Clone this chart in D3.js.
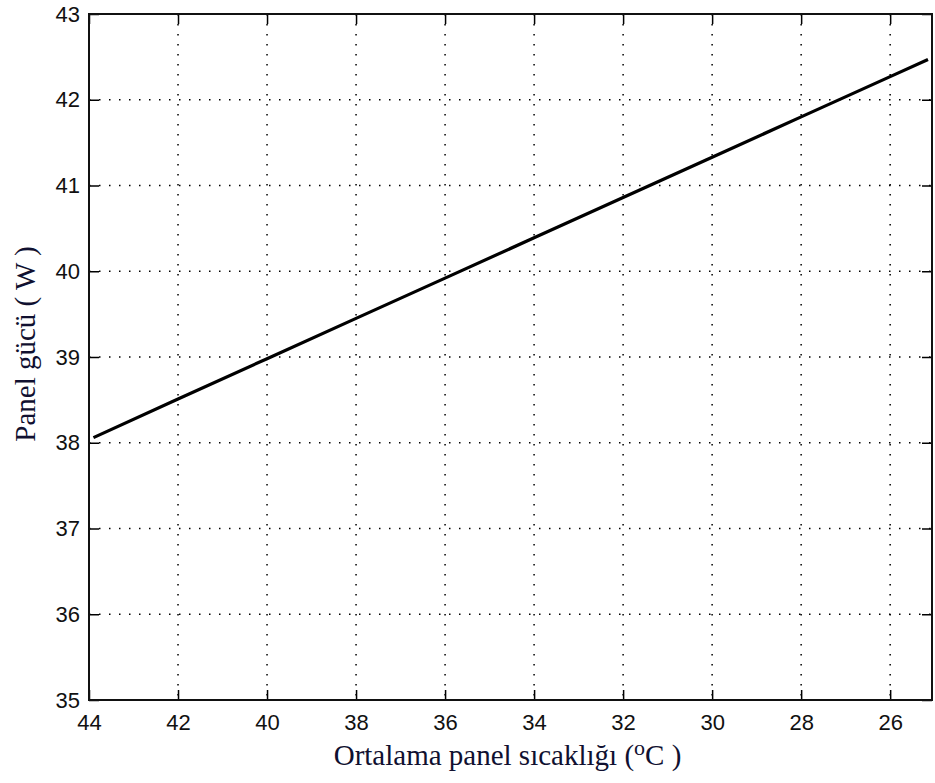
<!DOCTYPE html>
<html>
<head>
<meta charset="utf-8">
<script src="https://cdn.jsdelivr.net/npm/d3@7"></script>
<style>
  body { margin: 0; background: #fff; }
  .tick text { font-family: "Liberation Sans", Arial, sans-serif; font-size: 22px; fill: #111; }
</style>
</head>
<body>
<div id="chart"></div>
<script>
// values
var temps = [43.9, 42, 40, 38, 36, 34, 32, 30, 28, 26, 25.15];
var power = [38.06, 38.51, 38.98, 39.45, 39.92, 40.39, 40.86, 41.33, 41.80, 42.27, 42.47];
var xTicks = [44, 42, 40, 38, 36, 34, 32, 30, 28, 26];
var yTicks = [35, 36, 37, 38, 39, 40, 41, 42, 43];

var margin = {top: 14, right: 3, bottom: 83, left: 89},
    width = 935 - margin.left - margin.right,
    height = 783 - margin.top - margin.bottom;

var svg = d3.select("#chart")
  .append("svg")
    .attr("width", 935)
    .attr("height", 783)
  .append("g")
    .attr("transform", "translate(" + margin.left + "," + margin.top + ")");

// x axis runs backwards, hot on the left
var x = d3.scaleLinear()
  .domain([44, 25.06])
  .range([0, width]);

var y = d3.scaleLinear()
  .domain([35, 43])
  .range([height, 0]);

// dotted grid
svg.append("g").selectAll("line")
  .data(xTicks.slice(1))
  .enter().append("line")
    .attr("x1", function(d) { return x(d); })
    .attr("x2", function(d) { return x(d); })
    .attr("y1", 0)
    .attr("y2", height)
    .attr("stroke", "#000")
    .attr("stroke-width", 1.5)
    .attr("stroke-dasharray", "1.5,8.5");

svg.append("g").selectAll("line")
  .data(yTicks.slice(1, -1))
  .enter().append("line")
    .attr("x1", 0)
    .attr("x2", width)
    .attr("y1", function(d) { return y(d); })
    .attr("y2", function(d) { return y(d); })
    .attr("stroke", "#000")
    .attr("stroke-width", 1.5)
    .attr("stroke-dasharray", "1.5,8.5");

// axes, ticks pointing inward on all four sides
svg.append("g")
  .attr("transform", "translate(0," + height + ")")
  .call(d3.axisBottom(x).tickValues(xTicks).tickSizeInner(-10).tickSizeOuter(0).tickPadding(14));

svg.append("g")
  .call(d3.axisTop(x).tickValues(xTicks).tickSizeInner(-10).tickSizeOuter(0).tickFormat(""));

svg.append("g")
  .call(d3.axisLeft(y).tickValues(yTicks).tickSizeInner(-10).tickSizeOuter(0).tickPadding(9));

svg.append("g")
  .attr("transform", "translate(" + width + ",0)")
  .call(d3.axisRight(y).tickValues(yTicks).tickSizeInner(-10).tickSizeOuter(0).tickFormat(""));

svg.selectAll(".domain").remove();
svg.selectAll(".tick line").attr("stroke", "#000").attr("stroke-width", 1.5);

// box
svg.append("rect")
  .attr("width", width)
  .attr("height", height)
  .attr("fill", "none")
  .attr("stroke", "#111")
  .attr("stroke-width", 2);

// the line
var line = d3.line()
  .x(function(d, i) { return x(temps[i]); })
  .y(function(d) { return y(d); });

svg.append("path")
  .datum(power)
  .attr("d", line)
  .attr("fill", "none")
  .attr("stroke", "#000")
  .attr("stroke-width", 3.2);

// axis titles
var xLabel = svg.append("text")
  .attr("x", width / 2 - 3)
  .attr("y", height + 65)
  .attr("text-anchor", "middle")
  .attr("font-family", "Liberation Serif, Times New Roman, serif")
  .attr("font-size", 29)
  .attr("fill", "#101030");
xLabel.append("tspan").text("Ortalama panel sıcaklığı (");
xLabel.append("tspan").attr("dy", -10).attr("font-size", 22).text("o");
xLabel.append("tspan").attr("dy", 10).text("C )");

svg.append("text")
  .attr("transform", "translate(" + (-54) + "," + (height / 2 - 13) + ") rotate(-90)")
  .attr("text-anchor", "middle")
  .attr("font-family", "Liberation Serif, Times New Roman, serif")
  .attr("font-size", 29)
  .attr("fill", "#101030")
  .text("Panel gücü ( W )");
</script>
</body>
</html>
